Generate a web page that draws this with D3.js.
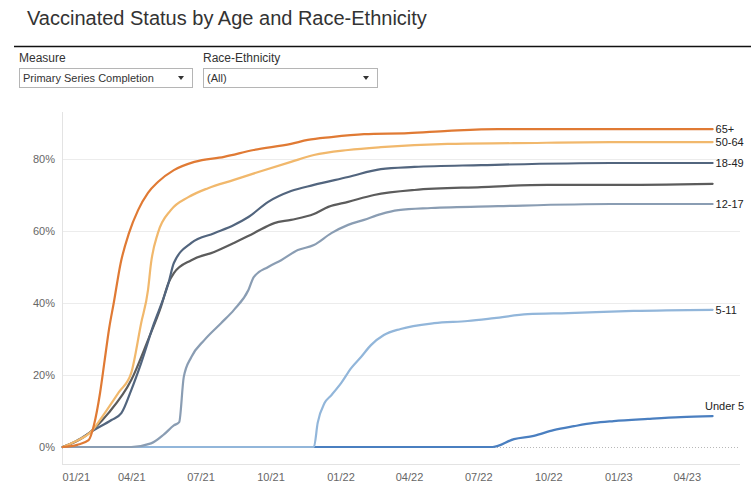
<!DOCTYPE html>
<html>
<head>
<meta charset="utf-8">
<script src="https://cdn.jsdelivr.net/npm/d3@7"></script>
<style>
  body { margin: 0; background: #fff; }
  text { font-family: "Liberation Sans", Arial, sans-serif; }
</style>
</head>
<body>
<div id="chart"></div>
<script>
// chart size
var w = 751;
var h = 486;

// values, percent of population completing primary series
var age65 = [
  ["2021-01-01", 0], ["2021-01-20", 0.6], ["2021-02-04", 1.9], ["2021-02-11", 6.1],
  ["2021-02-19", 15], ["2021-02-25", 24], ["2021-03-03", 33], ["2021-03-09", 40],
  ["2021-03-18", 51], ["2021-03-29", 59.4], ["2021-04-10", 65.8], ["2021-04-23", 70.6],
  ["2021-05-06", 73.6], ["2021-05-27", 76.9], ["2021-06-23", 79.2], ["2021-08-01", 80.6],
  ["2021-09-09", 82.5], ["2021-10-28", 84.2], ["2021-11-19", 85.3], ["2021-12-20", 86.1],
  ["2022-02-01", 86.9], ["2022-03-31", 87.2], ["2022-05-22", 87.8], ["2022-07-27", 88.3],
  ["2022-12-22", 88.3], ["2023-05-05", 88.3]
];
var age50 = [
  ["2021-01-01", 0], ["2021-01-16", 1.4], ["2021-02-07", 4.2], ["2021-02-27", 10],
  ["2021-03-16", 15.3], ["2021-04-01", 20.6], ["2021-04-14", 34.4], ["2021-04-23", 43.6],
  ["2021-04-27", 51.1], ["2021-05-06", 59.4], ["2021-05-23", 65.8], ["2021-06-15", 69.4],
  ["2021-07-11", 71.9], ["2021-08-14", 74.2], ["2021-09-15", 76.4], ["2021-10-28", 79.2],
  ["2021-11-27", 81.1], ["2022-01-11", 82.5], ["2022-02-23", 83.3], ["2022-05-22", 84.2],
  ["2022-08-17", 84.4], ["2022-12-22", 84.7], ["2023-05-05", 84.7]
];
var age18 = [
  ["2021-01-01", 0], ["2021-01-19", 1.7], ["2021-02-11", 4.7], ["2021-03-06", 7.5],
  ["2021-03-19", 9.4], ["2021-04-01", 15.8], ["2021-04-14", 23.3], ["2021-05-01", 34.4],
  ["2021-05-14", 41.7], ["2021-05-20", 45.6], ["2021-05-27", 51.1], ["2021-06-19", 56.7],
  ["2021-07-19", 59.4], ["2021-08-14", 61.7], ["2021-09-02", 63.9], ["2021-09-28", 68.1],
  ["2021-10-28", 71.1], ["2021-11-27", 72.8], ["2022-01-11", 75.0], ["2022-02-23", 77.2],
  ["2022-04-08", 77.8], ["2022-07-05", 78.3], ["2022-12-22", 78.9], ["2023-05-05", 78.9]
];
var allAges = [
  ["2021-01-01", 0], ["2021-01-29", 2.8], ["2021-03-02", 9.4], ["2021-04-01", 18.6],
  ["2021-04-23", 29.7], ["2021-05-10", 38.9], ["2021-05-20", 45.6], ["2021-05-27", 48.3],
  ["2021-06-19", 51.9], ["2021-07-19", 54.2], ["2021-08-14", 56.7], ["2021-09-09", 59.4],
  ["2021-10-06", 62.2], ["2021-10-28", 63.1], ["2021-11-27", 64.7], ["2021-12-16", 66.7],
  ["2022-01-11", 68.1], ["2022-02-14", 70.0], ["2022-04-08", 71.4], ["2022-07-05", 72.2],
  ["2022-09-30", 72.8], ["2022-12-22", 72.8], ["2023-05-05", 73.1]
];
var age12 = [
  ["2021-01-01", 0], ["2021-04-01", 0], ["2021-04-27", 1.0], ["2021-05-14", 3.5],
  ["2021-05-27", 6.0], ["2021-06-03", 6.9], ["2021-06-09", 19.4], ["2021-06-19", 25.0],
  ["2021-07-06", 29.7], ["2021-07-28", 34.4], ["2021-08-14", 38.1], ["2021-09-02", 43.6],
  ["2021-09-09", 47.2], ["2021-09-28", 50.0], ["2021-10-15", 51.9], ["2021-11-06", 54.7],
  ["2021-11-27", 56.1], ["2021-12-20", 59.4], ["2022-01-11", 61.7], ["2022-02-01", 63.1],
  ["2022-02-23", 64.7], ["2022-03-18", 65.8], ["2022-04-30", 66.4], ["2022-07-27", 66.9],
  ["2022-12-22", 67.5], ["2023-05-05", 67.5]
];
var age5 = [
  ["2021-01-01", 0], ["2021-11-27", 0], ["2021-12-02", 6.7], ["2021-12-11", 12.2],
  ["2021-12-20", 14.4], ["2022-01-02", 17.8], ["2022-01-15", 21.9], ["2022-01-28", 25.0],
  ["2022-02-10", 28.3], ["2022-02-27", 31.1], ["2022-03-21", 32.8], ["2022-05-04", 34.4],
  ["2022-06-17", 35.0], ["2022-07-22", 35.8], ["2022-09-04", 36.9], ["2022-10-27", 37.2],
  ["2023-01-21", 37.8], ["2023-05-05", 38.1]
];
var under5 = [
  ["2021-01-01", 0], ["2022-07-20", 0], ["2022-08-17", 2.2], ["2022-09-12", 3.1],
  ["2022-10-08", 4.7], ["2022-11-04", 5.8], ["2022-11-30", 6.7], ["2022-12-26", 7.2],
  ["2023-02-09", 7.8], ["2023-03-24", 8.3], ["2023-05-05", 8.6]
];

var groupNames = ["Under 5", "5-11", "12-17", "", "18-49", "50-64", "65+"];
var groupValues = [under5, age5, age12, allAges, age18, age50, age65];
var groupColors = ["#4a7fc0", "#92b6da", "#8a9db3", "#5c5c5c", "#52657e", "#f1b86c", "#e07a34"];

var yTicks = [0, 20, 40, 60, 80];

var parseDate = d3.utcParse("%Y-%m-%d");

var svg = d3.select("#chart")
  .append("svg")
  .attr("width", w)
  .attr("height", h);

// title and the filter boxes
svg.append("text")
  .attr("x", 27)
  .attr("y", 25)
  .attr("font-size", "20px")
  .attr("fill", "#333")
  .text("Vaccinated Status by Age and Race-Ethnicity");

svg.append("line")
  .attr("x1", 14).attr("x2", w)
  .attr("y1", 46.5).attr("y2", 46.5)
  .attr("stroke", "#111")
  .attr("stroke-width", 1.5);

var filters = [
  { label: "Measure", value: "Primary Series Completion", x: 19, width: 173 },
  { label: "Race-Ethnicity", value: "(All)", x: 203, width: 174 }
];

filters.forEach(function(f) {
  svg.append("text")
    .attr("x", f.x)
    .attr("y", 62)
    .attr("font-size", "12px")
    .attr("fill", "#333")
    .text(f.label);
  svg.append("rect")
    .attr("x", f.x + 0.5)
    .attr("y", 68.5)
    .attr("width", f.width)
    .attr("height", 19)
    .attr("fill", "#fff")
    .attr("stroke", "#b5b5b5");
  svg.append("text")
    .attr("x", f.x + 4)
    .attr("y", 82)
    .attr("font-size", "11px")
    .attr("fill", "#333")
    .text(f.value);
  svg.append("path")
    .attr("d", "M" + (f.x + f.width - 14) + ",76 l6,0 l-3,4 z")
    .attr("fill", "#333");
});

// scales
var x = d3.scaleUtc()
  .domain([parseDate("2020-12-31"), parseDate("2023-06-10")])
  .range([62, 740]);

var y = d3.scaleLinear()
  .domain([-4.72, 93.06])
  .range([464, 112]);

// grid lines
svg.selectAll(".grid")
  .data(yTicks.filter(function(d) { return d > 0; }))
  .enter()
  .append("line")
  .attr("x1", 62).attr("x2", 740)
  .attr("y1", function(d) { return Math.round(y(d)) + 0.5; })
  .attr("y2", function(d) { return Math.round(y(d)) + 0.5; })
  .attr("stroke", "#ececec");

// zero line
svg.append("line")
  .attr("x1", 62).attr("x2", 740)
  .attr("y1", Math.round(y(0)) + 0.5).attr("y2", Math.round(y(0)) + 0.5)
  .attr("stroke", "#b8b8b8")
  .attr("stroke-dasharray", "1,2");

// axis frame
svg.append("line")
  .attr("x1", 62.5).attr("x2", 62.5)
  .attr("y1", 112).attr("y2", 464)
  .attr("stroke", "#e3e3e3");
svg.append("line")
  .attr("x1", 62).attr("x2", 740)
  .attr("y1", 464.5).attr("y2", 464.5)
  .attr("stroke", "#e3e3e3");

// y axis labels
var yAxis = d3.axisLeft(y)
  .tickValues(yTicks)
  .tickSize(0)
  .tickPadding(7)
  .tickFormat(function(d) { return d + "%"; });

var gy = svg.append("g")
  .attr("transform", "translate(62,0)")
  .call(yAxis);
gy.select(".domain").remove();
gy.selectAll("text")
  .attr("font-family", "Liberation Sans, Arial, sans-serif")
  .attr("font-size", "11px")
  .attr("fill", "#666");

// x axis labels
var xTicks = d3.utcMonth.range(parseDate("2021-01-01"), parseDate("2023-05-01"), 3);

var xAxis = d3.axisBottom(x)
  .tickValues(xTicks)
  .tickSize(0)
  .tickPadding(9)
  .tickFormat(d3.utcFormat("%m/%y"));

var gx = svg.append("g")
  .attr("transform", "translate(0,464)")
  .call(xAxis);
gx.select(".domain").remove();
gx.selectAll("text")
  .attr("font-family", "Liberation Sans, Arial, sans-serif")
  .attr("font-size", "11px")
  .attr("fill", "#666");
gx.selectAll("text")
  .filter(function(d, i) { return i === 0; })
  .attr("text-anchor", "start")
  .attr("dx", 62 - x(xTicks[0]));

// lines
var line = d3.line()
  .x(function(d) { return x(parseDate(d[0])); })
  .y(function(d) { return y(d[1]); })
  .curve(d3.curveMonotoneX);

svg.selectAll(".series")
  .data(groupValues)
  .enter()
  .append("path")
  .attr("class", "series")
  .attr("d", function(d) { return line(d); })
  .attr("fill", "none")
  .attr("stroke", function(d, i) { return groupColors[i]; })
  .attr("stroke-width", 2.2)
  .attr("stroke-linejoin", "round")
  .attr("stroke-linecap", "round");

// end labels
svg.selectAll(".endlabel")
  .data(groupValues)
  .enter()
  .append("text")
  .attr("class", "endlabel")
  .text(function(d, i) { return groupNames[i]; })
  .attr("x", function(d, i) {
    var last = d[d.length - 1];
    return groupNames[i] === "Under 5" ? x(parseDate(last[0])) + 12 : x(parseDate(last[0])) + 3;
  })
  .attr("y", function(d, i) {
    var last = d[d.length - 1];
    return groupNames[i] === "Under 5" ? y(last[1]) - 6 : y(last[1]) + 4;
  })
  .attr("text-anchor", function(d, i) { return groupNames[i] === "Under 5" ? "middle" : "start"; })
  .attr("font-size", "11px")
  .attr("fill", "#222");
</script>
</body>
</html>
